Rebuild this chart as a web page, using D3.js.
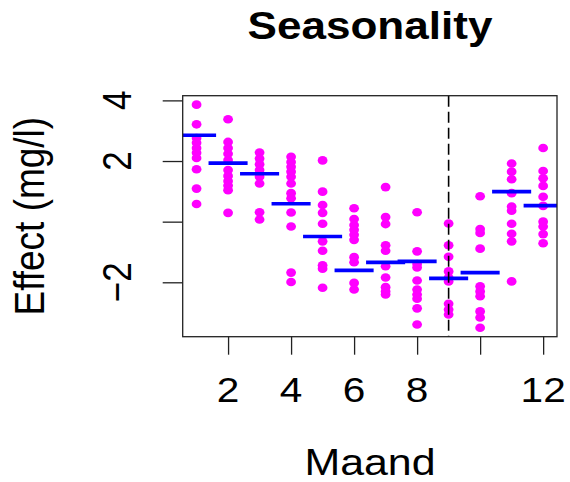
<!DOCTYPE html>
<html>
<head>
<meta charset="utf-8">
<script src="https://cdn.jsdelivr.net/npm/d3@7"></script>
<style>
  html, body { margin: 0; padding: 0; background: #fff; }
  svg { display: block; }
  text { font-family: "Liberation Sans", Arial, sans-serif; fill: #000; }
</style>
</head>
<body>
<svg id="chart" width="570" height="482"></svg>
<script>
// Months 1..12
const months = [1, 2, 3, 4, 5, 6, 7, 8, 9, 10, 11, 12];

// Partial residuals per month (mg/l)
const residuals = [
  [3.86, 3.21, 2.76, 2.60, 2.43, 2.27, 2.10, 1.73, 1.09, 0.58],
  [3.38, 2.63, 2.43, 2.24, 2.03, 1.70, 1.51, 1.34, 1.19, 1.04, 0.29],
  [2.28, 2.08, 1.89, 1.70, 1.48, 1.26, 0.31, 0.07],
  [2.14, 1.97, 1.81, 1.65, 1.48, 1.26, 0.94, 0.77, 0.30, -0.16, -1.68, -1.99],
  [2.02, 0.99, 0.55, 0.29, -0.07, -0.65, -0.96, -1.44, -1.55, -2.18],
  [0.44, 0.09, -0.11, -0.27, -0.43, -0.60, -1.17, -1.34, -2.02, -2.24],
  [1.14, 0.15, -0.08, -0.78, -0.96, -1.47, -1.84, -2.16, -2.30, -2.40],
  [0.31, -0.98, -1.40, -1.51, -1.94, -2.24, -2.40, -2.54, -2.86, -3.39],
  [-0.06, -0.78, -1.16, -1.64, -1.84, -1.97, -2.71, -2.90, -3.06],
  [0.84, -0.24, -0.37, -0.89, -2.13, -2.30, -2.46, -2.96, -3.16, -3.50],
  [1.92, 1.65, 1.40, 0.94, 0.50, 0.36, -0.07, -0.40, -0.65, -1.97],
  [2.43, 1.67, 1.43, 1.18, 0.82, 0.52, 0.00, -0.16, -0.41, -0.71]
];

// Estimated monthly effect (mg/l)
const monthEffect = [2.85, 1.93, 1.58, 0.59, -0.49, -1.61, -1.34, -1.31, -1.87, -1.68, 0.99, 0.53];

// Month marked with a dashed reference line
const markedMonth = [9];

// Axis ticks and labels
const xTicks = [2, 4, 6, 8, 10, 12];
const xTickLabels = ["2", "4", "6", "8", "", "12"];
const yTicks = [-2, 0, 2, 4];
const yTickLabels = ["\u22122", "", "2", "4"];

const titleText = "Seasonality";
const xLabel = "Maand";
const yLabel = "Effect (mg/l)";

const svg = d3.select("#chart");
const plot = { left: 182.7, right: 557, top: 95.7, bottom: 336.7 };
const sx = 1.16; // horizontal stretch of lettering

// Domains padded by 4% on each side
function padded(lo, hi) { const p = (hi - lo) * 0.04; return [lo - p, hi + p]; }
const allVals = residuals.flat();
const x = d3.scaleLinear().domain(padded(d3.min(months), d3.max(months))).range([plot.left, plot.right]);
const y = d3.scaleLinear().domain(padded(d3.min(allVals), d3.max(allVals))).range([plot.bottom, plot.top]);

svg.append("defs").append("clipPath").attr("id", "plotClip")
  .append("rect")
  .attr("x", plot.left).attr("y", plot.top)
  .attr("width", plot.right - plot.left).attr("height", plot.bottom - plot.top);

const g = svg.append("g").attr("clip-path", "url(#plotClip)");

// Residual points
const pts = months.flatMap((m, i) => residuals[i].map(v => ({ m, v })));
g.selectAll("ellipse.pt").data(pts).join("ellipse")
  .attr("class", "pt")
  .attr("cx", d => x(d.m)).attr("cy", d => y(d.v))
  .attr("rx", 4.9).attr("ry", 4.3)
  .attr("fill", "#FF00FF");

// Monthly effect segments
g.selectAll("line.eff").data(months).join("line")
  .attr("class", "eff")
  .attr("x1", (m) => x(m - 0.62)).attr("x2", (m) => x(m + 0.62))
  .attr("y1", (m, i) => y(monthEffect[i])).attr("y2", (m, i) => y(monthEffect[i]))
  .attr("stroke", "#0000FF").attr("stroke-width", 3.7);

// Dashed reference line
g.selectAll("line.ref").data(markedMonth).join("line")
  .attr("class", "ref")
  .attr("x1", d => x(d)).attr("x2", d => x(d))
  .attr("y1", plot.top).attr("y2", plot.bottom)
  .attr("stroke", "#000").attr("stroke-width", 1.6)
  .attr("stroke-dasharray", "11,5");

// Box
svg.append("rect")
  .attr("x", plot.left).attr("y", plot.top)
  .attr("width", plot.right - plot.left).attr("height", plot.bottom - plot.top)
  .attr("fill", "none").attr("stroke", "#222").attr("stroke-width", 1.3);

// X axis
const xAxis = d3.axisBottom(x).tickValues(xTicks).tickSize(18).tickFormat("");
const xg = svg.append("g").attr("transform", `translate(0,${plot.bottom})`).call(xAxis);
xg.select(".domain").remove();
xg.selectAll(".tick line").attr("stroke", "#222").attr("stroke-width", 1.3);
svg.append("g").selectAll("text").data(xTicks).join("text")
  .attr("transform", d => `translate(${x(d)},401.5) scale(${sx},1)`)
  .attr("text-anchor", "middle")
  .style("font-size", "35px")
  .text((d, i) => xTickLabels[i]);

// Y axis
const yAxis = d3.axisLeft(y).tickValues(yTicks).tickSize(20).tickFormat("");
const yg = svg.append("g").attr("transform", `translate(${plot.left},0)`).call(yAxis);
yg.select(".domain").remove();
yg.selectAll(".tick line").attr("stroke", "#222").attr("stroke-width", 1.3);
svg.append("g").selectAll("text").data(yTicks).join("text")
  .attr("transform", d => `translate(131,${y(d)}) scale(${sx},1) rotate(-90)`)
  .attr("text-anchor", "middle")
  .style("font-size", "35px")
  .text((d, i) => yTickLabels[i]);

// Title and axis titles
svg.append("text")
  .attr("transform", `translate(370,38.5) scale(${sx},1)`)
  .attr("text-anchor", "middle")
  .style("font-size", "38px").style("font-weight", "bold")
  .text(titleText);

svg.append("text")
  .attr("transform", `translate(370,475) scale(${sx},1)`)
  .attr("text-anchor", "middle")
  .style("font-size", "37px")
  .text(xLabel);

svg.append("text")
  .attr("transform", `translate(44,${(plot.top + plot.bottom) / 2}) scale(${sx},1) rotate(-90)`)
  .attr("text-anchor", "middle")
  .style("font-size", "37px")
  .text(yLabel);
</script>
</body>
</html>
